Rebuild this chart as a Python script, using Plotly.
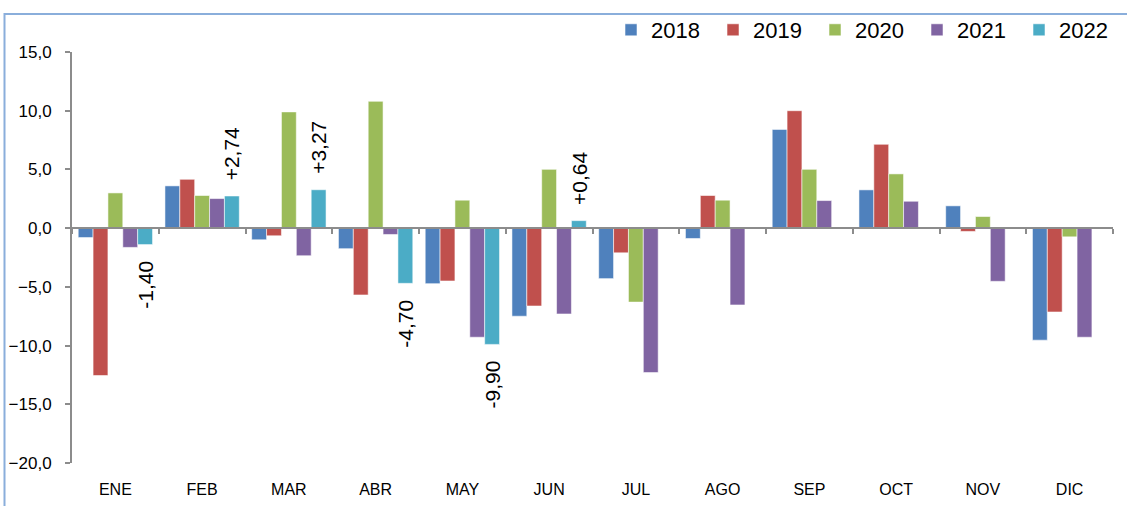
import plotly.graph_objects as go

months = ["ENE", "FEB", "MAR", "ABR", "MAY", "JUN", "JUL", "AGO", "SEP", "OCT", "NOV", "DIC"]
years = ["2018", "2019", "2020", "2021", "2022"]

v2018 = [-0.80, 3.60, -0.99, -1.75, -4.73, -7.50, -4.30, -0.88, 8.41, 3.26, 1.90, -9.54]
v2019 = [-12.55, 4.16, -0.65, -5.69, -4.50, -6.63, -2.10, 2.78, 10.00, 7.14, -0.28, -7.14]
v2020 = [3.00, 2.78, 9.90, 10.80, 2.38, 5.01, -6.30, 2.38, 5.01, 4.62, 0.99, -0.74]
v2021 = [-1.64, 2.52, -2.35, -0.54, -9.29, -7.31, -12.30, -6.54, 2.35, 2.29, -4.53, -9.29]
v2022 = [-1.40, 2.74, 3.27, -4.70, -9.90, 0.64, None, None, None, None, None, None]
labels2022 = ["-1,40", "+2,74", "+3,27", "-4,70", "-9,90", "+0,64", "", "", "", "", "", ""]

series = [v2018, v2019, v2020, v2021, v2022]
colors = ["#4F81BD", "#C0504D", "#9BBB59", "#8064A2", "#4BACC6"]

FONT = "Liberation Sans"
W, H = 1127, 506
ML, MR, MT, MB = 72, 14, 52, 43
plot_w = W - ML - MR
plot_h = H - MT - MB
BARGAP = 0.143
bar_w = plot_w / len(months) * (1 - BARGAP) / len(years)

fig = go.Figure()
for name, vals, col in zip(years, series, colors):
    fig.add_trace(go.Bar(
        x=months, y=vals, name=name,
        marker=dict(color=col, line=dict(color="rgba(255,255,255,0.55)", width=1)),
        hoverinfo="x+y+name",
    ))

# helper trace on overlay axis for the zero-line with category ticks
fig.add_trace(go.Scatter(x=months, y=[None] * len(months), xaxis="x2", yaxis="y",
                         showlegend=False, hoverinfo="skip", mode="markers"))

annotations = []
for m, v, t in zip(months, v2022, labels2022):
    if v is None or not t:
        continue
    annotations.append(dict(
        x=m, y=v, xref="x", yref="y", text=t, showarrow=False,
        textangle=-90, font=dict(family=FONT, size=21, color="#000000"),
        xshift=2 * bar_w,
        yanchor="bottom" if v > 0 else "top",
        yshift=14 if v > 0 else -14,
    ))

fig.update_layout(
    width=W, height=H,
    margin=dict(l=ML, r=MR, t=MT, b=MB, autoexpand=False),
    paper_bgcolor="white", plot_bgcolor="white",
    barmode="group", bargap=BARGAP, bargroupgap=0,
    separators=",.",
    font=dict(family=FONT, color="#000000"),
    showlegend=True,
    legend=dict(
        orientation="h", x=1.0077, xanchor="right", y=1 + 22 / plot_h, yanchor="middle",
        font=dict(family=FONT, size=22, color="#000000"),
        itemwidth=30, entrywidth=57, entrywidthmode="pixels",
        bgcolor="rgba(0,0,0,0)",
    ),
    xaxis=dict(
        type="category", categoryorder="array", categoryarray=months,
        range=[-0.5, len(months) - 0.5], automargin=False,
        showline=False, showgrid=False, zeroline=False,
        ticks="outside", ticklen=12, tickcolor="rgba(0,0,0,0)",
        tickfont=dict(family=FONT, size=16, color="#000000"),
    ),
    xaxis2=dict(
        type="category", categoryorder="array", categoryarray=months,
        range=[-0.5, len(months) - 0.5], automargin=False,
        overlaying="x", anchor="free", position=20 / 35, side="bottom",
        showline=True, linecolor="#8C8C8C", linewidth=2,
        ticks="outside", ticklen=5, tickwidth=2, tickcolor="#8C8C8C", tickson="boundaries",
        showticklabels=False, showgrid=False, zeroline=False,
    ),
    yaxis=dict(
        range=[-20, 15], tick0=-20, dtick=5, tickformat=".1f", automargin=False,
        showline=True, linecolor="#8C8C8C", linewidth=2,
        ticks="outside", ticklen=5, tickwidth=2, tickcolor="#8C8C8C",
        ticklabelstandoff=10,
        showgrid=False, zeroline=False,
        tickfont=dict(family=FONT, size=17, color="#000000"),
    ),
    annotations=annotations,
    shapes=[dict(
        type="rect", xref="paper", yref="paper",
        x0=(4.5 - ML) / plot_w, x1=(W + 20 - ML) / plot_w,
        y0=-(MB + 20) / plot_h, y1=(H - MT - 5) / plot_h + 0.0,
        line=dict(color="#8AAEDB", width=2), fillcolor="rgba(0,0,0,0)", layer="below",
    )],
)

fig.write_html(
    "out.html",
    config={"displayModeBar": False},
    post_script="document.body.style.margin='0';document.body.style.overflow='hidden';",
)
